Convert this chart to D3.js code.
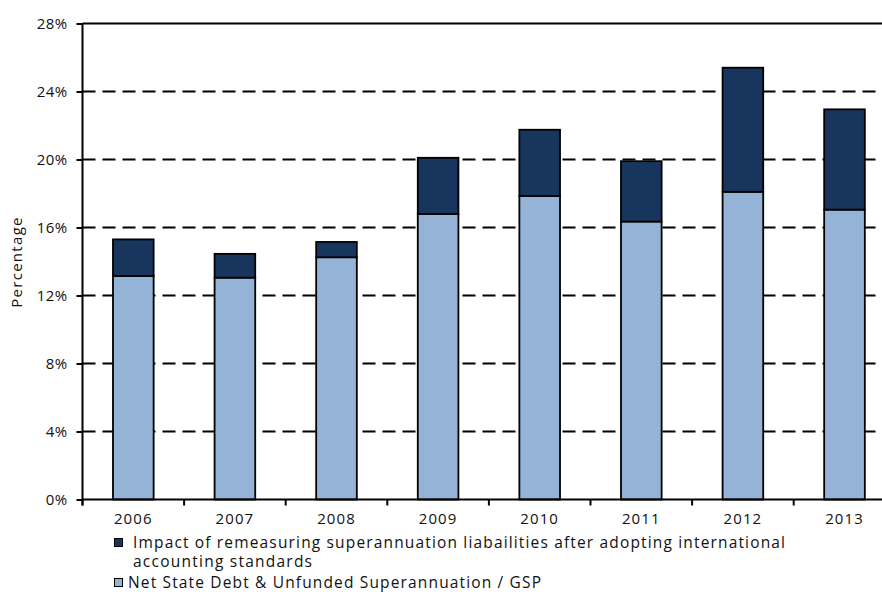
<!DOCTYPE html>
<html>
<head>
<meta charset="utf-8">
<script src="https://cdn.jsdelivr.net/npm/d3@7"></script>
<style>
  html, body { margin: 0; padding: 0; background: #fff; }
  svg { display: block; font-family: "Open Sans", "DejaVu Sans", sans-serif; }
</style>
</head>
<body>
<svg id="chart" width="882" height="592"></svg>
<script>
// Net state debt ratio, with the superannuation remeasurement shown on top
const years = ["2006", "2007", "2008", "2009", "2010", "2011", "2012", "2013"];
const netDebt = [13.15, 13.05, 14.25, 16.8, 17.85, 16.35, 18.1, 17.05];
const remeasureImpact = [2.15, 1.4, 0.9, 3.3, 3.9, 3.55, 7.3, 5.9];
const yTicks = [0, 4, 8, 12, 16, 20, 24, 28];
const seriesNames = [
  "Impact of remeasuring superannuation liabailities after adopting international",
  "accounting standards",
  "Net State Debt & Unfunded Superannuation / GSP"
];

const svg = d3.select("#chart");
const plotLeft = 82.5, plotRight = 895.3, plotTop = 23.5, plotBottom = 499.5;

const x = d3.scaleBand().domain(years).range([plotLeft, plotRight])
  .paddingInner(0.6).paddingOuter(0.3);
const y = d3.scaleLinear().domain([0, 28]).range([plotBottom, plotTop]);

const stack = d3.stack().keys(["base", "impact"])(
  years.map((yr, i) => ({ year: yr, base: netDebt[i], impact: remeasureImpact[i] }))
);
const colors = { base: "#95b3d7", impact: "#18365d" };

// dashed gridlines
svg.append("g").selectAll("line")
  .data(yTicks.filter(t => t > 0 && t < 28))
  .join("line")
  .attr("x1", plotLeft).attr("x2", 882)
  .attr("y1", d => y(d)).attr("y2", d => y(d))
  .attr("stroke", "#000").attr("stroke-width", 2)
  .attr("stroke-dasharray", "13,7");

// top border
svg.append("line")
  .attr("x1", plotLeft).attr("x2", 882)
  .attr("y1", y(28)).attr("y2", y(28))
  .attr("stroke", "#000").attr("stroke-width", 2);

// stacked bars
svg.append("g").selectAll("g")
  .data(stack)
  .join("g")
  .attr("fill", d => colors[d.key])
  .selectAll("rect")
  .data(d => d)
  .join("rect")
  .attr("x", d => x(d.data.year))
  .attr("width", x.bandwidth())
  .attr("y", d => y(d[1]))
  .attr("height", d => y(d[0]) - y(d[1]))
  .attr("stroke", "#000").attr("stroke-width", 1.8);

// y axis
const yAxis = d3.axisLeft(y).tickValues(yTicks).tickFormat(d => d + "%")
  .tickSize(6).tickPadding(9);
const gy = svg.append("g").attr("transform", `translate(${plotLeft},0)`).call(yAxis);
gy.select(".domain").attr("d", `M0,${plotTop}V${plotBottom + 6}`).attr("stroke-width", 2);
gy.selectAll(".tick line").attr("stroke-width", 2);
gy.selectAll(".tick text").attr("font-size", 15).attr("font-family", "Open Sans")
  .attr("fill", "#111").attr("letter-spacing", 0.4);

// x axis: labels at band centres, tick marks at band edges
const step = x.step();
const gx = svg.append("g");
gx.append("line").attr("x1", plotLeft).attr("x2", 882)
  .attr("y1", plotBottom).attr("y2", plotBottom)
  .attr("stroke", "#000").attr("stroke-width", 2);
gx.selectAll("line.edge")
  .data(d3.range(years.length + 1))
  .join("line").attr("class", "edge")
  .attr("x1", i => plotLeft + i * step).attr("x2", i => plotLeft + i * step)
  .attr("y1", plotBottom).attr("y2", plotBottom + 6)
  .attr("stroke", "#000").attr("stroke-width", 2);
gx.selectAll("text")
  .data(years)
  .join("text")
  .attr("x", d => x(d) + x.bandwidth() / 2)
  .attr("y", 524)
  .attr("text-anchor", "middle")
  .attr("font-size", 15).attr("letter-spacing", 1.1)
  .attr("fill", "#111")
  .text(d => d);

// y axis title
svg.append("text")
  .attr("transform", "translate(22,262) rotate(-90)")
  .attr("text-anchor", "middle")
  .attr("font-size", 15).attr("letter-spacing", 1.3)
  .attr("fill", "#111")
  .text("Percentage");

// legend
const legend = svg.append("g");
legend.append("rect").attr("x", 114.5).attr("y", 538.5).attr("width", 8).attr("height", 8)
  .attr("fill", colors.impact).attr("stroke", "#000").attr("stroke-width", 1);
legend.append("text").attr("x", 133).attr("y", 548).attr("font-size", 15.5)
  .attr("textLength", 652).attr("lengthAdjust", "spacing").attr("fill", "#111")
  .text(seriesNames[0]);
legend.append("text").attr("x", 133).attr("y", 567).attr("font-size", 15.5)
  .attr("textLength", 179).attr("lengthAdjust", "spacing").attr("fill", "#111")
  .text(seriesNames[1]);
legend.append("rect").attr("x", 114.5).attr("y", 578.5).attr("width", 8).attr("height", 8)
  .attr("fill", colors.base).attr("stroke", "#000").attr("stroke-width", 1);
legend.append("text").attr("x", 128).attr("y", 588).attr("font-size", 15.5)
  .attr("textLength", 413).attr("lengthAdjust", "spacing").attr("fill", "#111")
  .text(seriesNames[2]);
</script>
</body>
</html>
